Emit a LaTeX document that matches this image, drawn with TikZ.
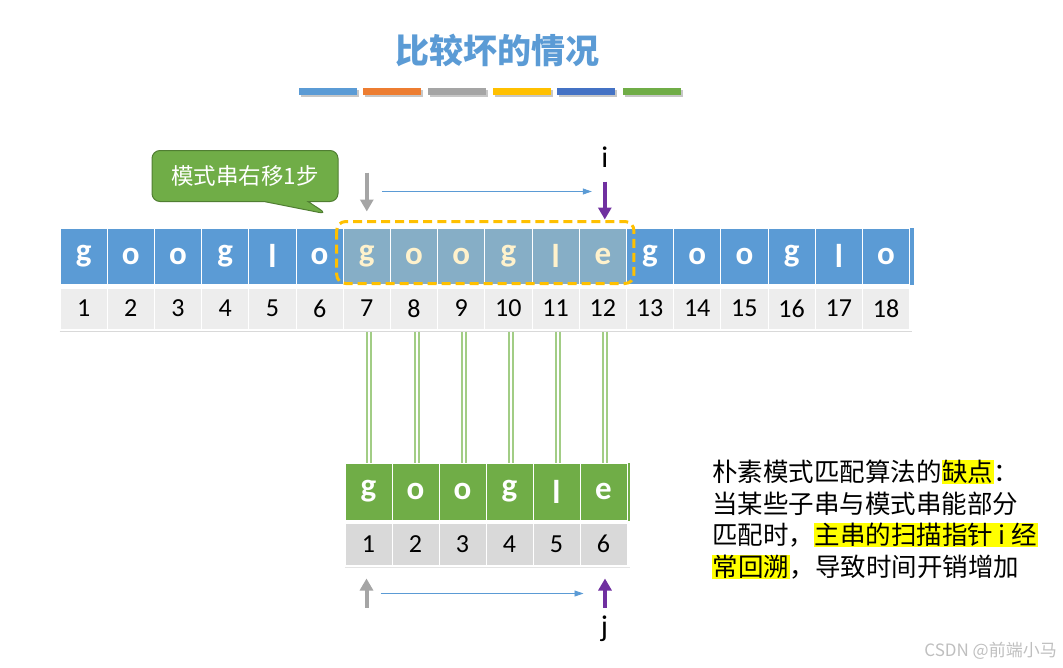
\documentclass[tikz,border=0pt]{standalone}
\usepackage{fontspec}
\setmainfont{Carlito}
\newfontfamily\cjk{Noto Sans CJK SC}
\usepackage{tikz}
\usetikzlibrary{positioning,calc,arrows.meta,shapes.callouts}
\usepackage{xcolor}
\definecolor{strblue}{HTML}{5B9BD5}
\definecolor{strhl}{HTML}{86AEC6}
\definecolor{strcream}{HTML}{FFF2CC}
\definecolor{patgreen}{HTML}{70AD47}
\definecolor{notegreen}{HTML}{507E32}
\definecolor{matchgreen}{HTML}{A2CD85}
\definecolor{idxgray}{HTML}{EDEDED}
\definecolor{idxdark}{HTML}{D9D9D9}
\definecolor{hlorange}{HTML}{FFC000}
\definecolor{ptrpurple}{HTML}{7030A0}
\definecolor{ptrgray}{HTML}{A5A5A5}
\definecolor{hlyellow}{HTML}{FFFF00}
\definecolor{barA}{HTML}{5B9BD5}
\definecolor{barB}{HTML}{ED7D31}
\definecolor{barC}{HTML}{A5A5A5}
\definecolor{barD}{HTML}{FFC000}
\definecolor{barE}{HTML}{4472C4}
\definecolor{barF}{HTML}{70AD47}
\setlength{\fboxsep}{0.5pt}
\newcommand\hilite[1]{\colorbox{hlyellow}{#1}}
\tikzset{
    title/.style={text=strblue, font=\cjk\bfseries\fontsize{34}{34}\selectfont},
    chr/.style={rectangle, draw=white, line width=1pt, fill=strblue, text=white, inner sep=0pt,
        minimum width=47.2pt, minimum height=56pt, font=\bfseries\fontsize{33}{33}\selectfont},
    chrH/.style={chr, fill=strhl, text=strcream},
    chrP/.style={chr, fill=patgreen, minimum width=47pt, minimum height=57pt},
    idx/.style={rectangle, draw=white, line width=1pt, fill=idxgray, inner sep=0pt,
        minimum width=47.2pt, minimum height=41pt, font=\fontsize{26}{26}\selectfont},
    idxP/.style={idx, fill=idxdark, minimum width=47pt, minimum height=42pt},
    hlbox/.style={draw=hlorange, line width=3pt, dash pattern=on 9pt off 5pt, rounded corners=9pt},
    match/.style={draw=matchgreen, line width=2pt, double=white, double distance=2pt},
    ptr/.style={line width=4pt, -{Triangle[length=12pt,width=13pt]}},
    move/.style={strblue, line width=0.8pt, -{Triangle[length=9pt,width=6pt]}},
    ptrlab/.style={font=\fontsize{30}{30}\selectfont},
    note/.style={rectangle callout, rounded corners=8pt, fill=patgreen, draw=notegreen, line width=1pt,
        text=white, minimum width=186pt, minimum height=51pt, callout pointer width=44pt,
        font=\cjk\fontsize{22.5}{22.5}\selectfont},
    say/.style={anchor=west, inner sep=0pt, font=\cjk\fontsize{25.5}{25.5}\selectfont},
    wmark/.style={anchor=east, inner sep=0pt, text=black!25, font=\cjk\fontsize{17}{17}\selectfont},
}
\begin{document}
\begin{tikzpicture}[x=1pt, y=-1pt]
    \useasboundingbox (0,0) rectangle (1063,667);

    % Title and colour bars
    \node[title] (ttl) at (497,50) {比较坏的情况};
    \foreach \x/\col in {299/barA, 363/barB, 428/barC, 493/barD, 557/barE, 623/barF} {
        \fill[black!22] (\x+1.5,90) rectangle ++(58,7);
        \fill[\col] (\x,88) rectangle ++(58,7);
    }

    % Main string
    \foreach \c [count=\k] in {g,o,o,g,l,o,g,o,o,g,l,e,g,o,o,g,l,o} {
        \ifnum\k<7 \def\st{chr}\else\ifnum\k>12 \def\st{chr}\else\def\st{chrH}\fi\fi
        \node[\st] (m\k) at ({60+47.2*(\k-0.5)},256) {\c};
        \node[idx] (n\k) at ({60+47.2*(\k-0.5)},308.5) {\k};
    }
    \fill[strblue] (m18.north east) rectangle ($(m18.south east)+(3.5,0)$);
    \draw[idxdark, line width=0.8pt] ($(n1.south west)+(0,2)$) -- ($(n18.south east)+(2,2)$);
    \draw[hlbox] ($(m7.north west)+(-6,-6)$) rectangle ($(m12.south east)+(7,-1)$);

    % Pointer i
    \node[ptrlab] (ilab) at ($(m12.north)+(2,-70)$) {i};
    \draw[ptr, ptrgray] ($(m7.north)+(0,-55)$) -- ($(m7.north)+(0,-16)$);
    \draw[ptr, ptrpurple] ($(m12.north)+(2,-46)$) -- ($(m12.north)+(2,-8)$);
    \draw[move] ($(m7.north)+(15,-36)$) -- ($(m12.north)+(-11,-36)$);

    % Callout
    \node[note, callout absolute pointer={(327,214)}] (mv) at (245,176) {模式串右移1步};

    % Pattern
    \foreach \c [count=\k] in {g,o,o,g,l,e} {
        \node[chrP] (p\k) at ({345+47*(\k-0.5)},491.5) {\c};
        \node[idxP] (q\k) at ({345+47*(\k-0.5)},544) {\k};
    }
    \fill[patgreen] (p6.north east) rectangle ($(p6.south east)+(2,0)$);
    \draw[idxdark!70, line width=0.8pt] ($(q1.south west)+(0,2)$) -- ($(q6.south east)+(2,2)$);

    % Matched characters
    \foreach \k in {1,...,6} {
        \pgfmathtruncatemacro\m{\k+6}
        \draw[match] ($(n\m.south)+(2.5,2)$) -- ($(n\m.south |- p\k.north)+(2.5,0)$);
    }

    % Pointer j
    \draw[ptr, ptrgray] ($(q1.south)+(-2,42)$) -- ($(q1.south)+(-2,13)$);
    \draw[ptr, ptrpurple] ($(q6.south)+(1.5,42)$) -- ($(q6.south)+(1.5,13)$);
    \draw[move] ($(q1.south)+(12,28)$) -- ($(q6.south)+(-20,28)$);
    \node[ptrlab] (jlab) at ($(q6.south)+(1,63)$) {j};

    % Explanation
    \node[say] (s1) at (712,472) {朴素模式匹配算法的\hilite{缺点}：};
    \node[say] (s2) at (712,504) {当某些子串与模式串能部分};
    \node[say] (s3) at (712,535) {匹配时，\hilite{主串的扫描指针 i 经}};
    \node[say] (s4) at (712,567) {\hilite{常回溯}，导致时间开销增加};

    \node[wmark] (wm) at (1057,651) {CSDN @前端小马};
\end{tikzpicture}
\end{document}
